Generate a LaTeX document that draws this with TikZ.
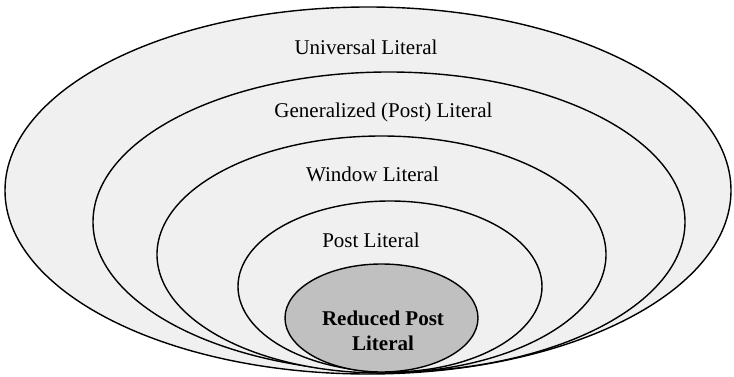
\documentclass[tikz,border=0pt]{standalone}
\usepackage{fontspec}
\setmainfont{Liberation Serif}
\usetikzlibrary{shapes.geometric}
\definecolor{ringfill}{HTML}{F0F0F0}
\definecolor{corefill}{HTML}{C0C0C0}
\begin{document}
\begin{tikzpicture}[x=1pt,y=-1pt,
  ring/.style={ellipse, draw=black, line width=1.4pt, fill=ringfill, inner sep=0pt},
  core/.style={ring, fill=corefill},
  lbl/.style={font=\fontsize{21}{25}\selectfont, inner sep=0pt, align=center}]
\useasboundingbox (0,0) rectangle (734,377);
\node[ring, minimum width=726pt, minimum height=367pt] (e1) at (368,190.5) {};
\node[ring, minimum width=592pt, minimum height=300pt] (e2) at (389,222) {};
\node[ring, minimum width=449pt, minimum height=237pt] (e3) at (381.5,254.5) {};
\node[ring, minimum width=304pt, minimum height=171pt] (e4) at (390,286.5) {};
\node[core, minimum width=193pt, minimum height=108pt] (e5) at (381.5,318) {};
\node[lbl] (t1) at (366,47) {Universal Literal};
\node[lbl] (t2) at (383.5,112) {Generalized (Post) Literal};
\node[lbl] (t3) at (372.5,174) {Window Literal};
\node[lbl] (t4) at (371,240) {Post Literal};
\node[lbl, font=\fontsize{21}{25}\selectfont\bfseries] (t5) at (383,331) {Reduced Post\\Literal};
\end{tikzpicture}
\end{document}
